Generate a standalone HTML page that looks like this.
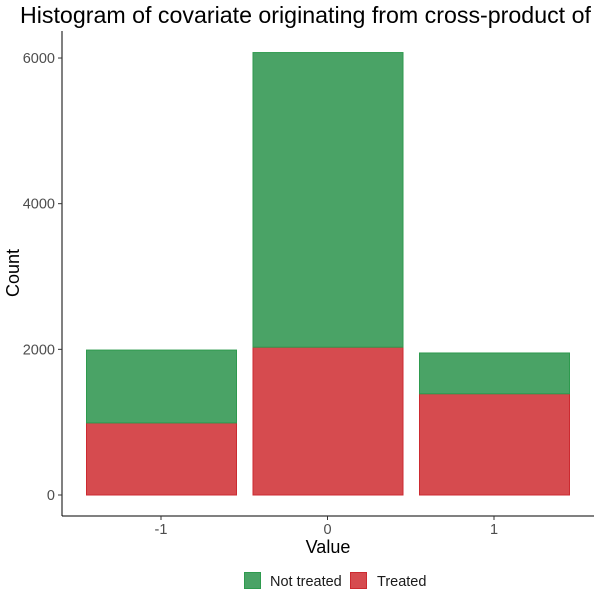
<!DOCTYPE html>
<html><head><style>
body{margin:0;background:#fff;}
svg{display:block;font-family:"Liberation Sans",Arial,sans-serif;}
</style></head><body>
<svg id="chart" width="600" height="600" viewBox="0 0 600 600">
<text x="20" y="23" font-size="23.2" fill="#000">Histogram of covariate originating from cross-product of</text>
<g id="bars"></g>
<line x1="62" y1="31" x2="62" y2="516" stroke="#000" stroke-width="1"/>
<line x1="62" y1="516" x2="594" y2="516" stroke="#000" stroke-width="1"/>
<g id="yticks"></g>
<g id="xticks"></g>
<text x="328" y="553" font-size="18" text-anchor="middle" fill="#000">Value</text>
<text transform="translate(19,273) rotate(-90)" font-size="18" text-anchor="middle" fill="#000">Count</text>
<g>
<rect x="244.5" y="572.5" width="16" height="16" fill="#4aa366" stroke="#2e9a4e"/>
<text x="270" y="586" font-size="14.5" fill="#1a1a1a">Not treated</text>
<rect x="350.5" y="572.5" width="16" height="16" fill="#d64b4f" stroke="#cc2a30"/>
<text x="377" y="586" font-size="14.5" fill="#1a1a1a">Treated</text>
</g>
</svg>
<script>
const categories = ["-1","0","1"];
const treated = [990, 2030, 1390];
const notTreated = [1000, 4045, 560];
const yTicks = [0, 2000, 4000, 6000];
const NS = "http://www.w3.org/2000/svg";
function yScale(v){ return 495 - v * 0.07283; }
function xCenter(i){ return 161 + i * 166.5; }
const barW = 150;
const bars = document.getElementById("bars");
function mk(tag, attrs, parent){ const e=document.createElementNS(NS,tag); for(const k in attrs) e.setAttribute(k,attrs[k]); parent.appendChild(e); return e; }
categories.forEach((c,i)=>{
  const x = xCenter(i) - barW/2;
  const t = treated[i], n = notTreated[i];
  const r1 = mk("rect",{x:x+0.5,y:yScale(t),width:barW,height:yScale(0)-yScale(t),fill:"#d64b4f",stroke:"#cc2a30","stroke-width":1},bars);
  
  
  const r2 = mk("rect",{x:x+0.5,y:yScale(t+n),width:barW,height:yScale(t)-yScale(t+n),fill:"#4aa366",stroke:"#2e9a4e","stroke-width":1},bars);
  
  
  const xt = document.getElementById("xticks");
  const tk = mk("line",{x1:xCenter(i),x2:xCenter(i),y1:516,y2:520,stroke:"#333"},xt);
  
  
  const lb = mk("text",{x:xCenter(i),y:534,"font-size":14.5,"text-anchor":"middle",fill:"#4d4d4d"},xt);
  lb.textContent = c;
  
  
});
const yt = document.getElementById("yticks");
yTicks.forEach(v=>{
  const tk = mk("line",{x1:58,x2:62,y1:yScale(v),y2:yScale(v),stroke:"#333"},yt);
  
  
  const lb = mk("text",{x:55,y:yScale(v)+5,"font-size":14.5,"text-anchor":"end",fill:"#4d4d4d"},yt);
  lb.textContent = v;
  
  
});
</script>
</body></html>
